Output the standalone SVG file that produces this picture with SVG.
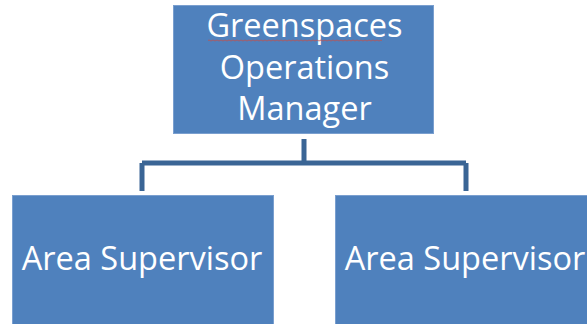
<svg xmlns="http://www.w3.org/2000/svg" width="587" height="324" viewBox="0 0 587 324">
<style>
.box{fill:#4F81BD;stroke:#7A9FCF;stroke-width:1}
.t{fill:#ffffff;font-family:"Open Sans","Liberation Sans",sans-serif;font-size:32.5px;text-anchor:middle}
.c{fill:none;stroke:#3A6595;stroke-width:5}
</style>
<rect width="587" height="324" fill="#ffffff"/>
<g id="connectors">
<path class="c" d="M304 139V163M142 163H466M142 163V191M466 163V191"/>
</g>
<g id="manager">
<rect class="box" x="173.5" y="5.5" width="260" height="128"/>
<text class="t" x="304.5" y="37">Greenspaces</text>
<text class="t" x="304.5" y="79">Operations</text>
<text class="t" x="304.5" y="120">Manager</text>
<path d="M208 40.5q1-1 2 0t2 0 2 0 2 0 2 0 2 0 2 0 2 0 2 0 2 0 2 0 2 0 2 0 2 0 2 0 2 0 2 0 2 0 2 0 2 0 2 0 2 0 2 0 2 0 2 0 2 0 2 0 2 0 2 0 2 0 2 0 2 0 2 0 2 0 2 0 2 0 2 0 2 0 2 0 2 0 2 0 2 0 2 0 2 0 2 0 2 0 2 0 2 0 2 0 2 0 2 0 2 0 2 0 2 0 2 0 2 0 2 0 2 0 2 0 2 0 2 0 2 0 2 0 2 0 2 0 2 0 2 0 2 0 2 0 2 0 2 0 2 0 2 0 2 0 2 0 2 0 2 0 2 0 2 0 2 0 2 0 2 0 2 0 2 0 2 0 2 0 2 0" fill="none" stroke="#C0504D" stroke-width="0.8"/>
</g>
<g id="supervisor1">
<rect class="box" x="12.5" y="195.5" width="261" height="135"/>
<text class="t" x="142" y="270">Area Supervisor</text>
</g>
<g id="supervisor2">
<rect class="box" x="335.5" y="195.5" width="261" height="135"/>
<text class="t" x="465" y="270">Area Supervisor</text>
</g>
</svg>
